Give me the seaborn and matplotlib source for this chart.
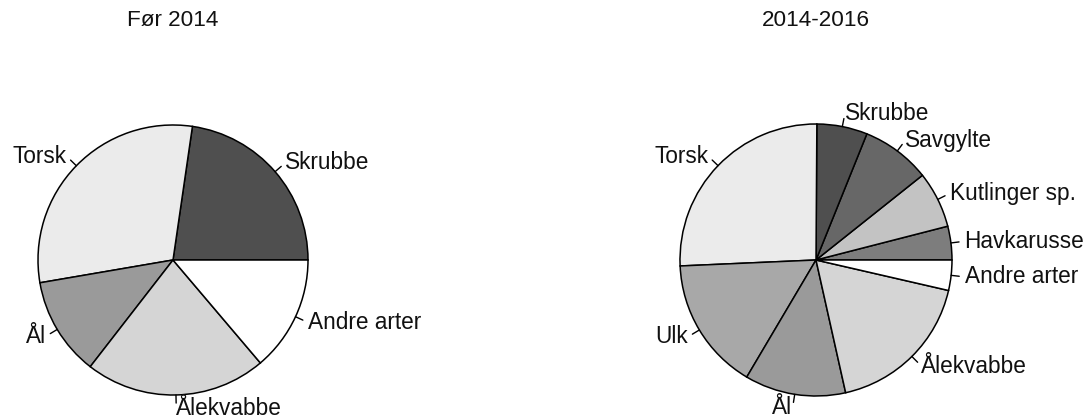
import numpy as np
import matplotlib
matplotlib.use("Agg")
import matplotlib.pyplot as plt
import seaborn as sns

# andeler (%) lest av figuren, i rekkefølge mot klokka fra kl. 3
labels_before = ["Skrubbe", "Torsk", "Ål", "Ålekvabbe", "Andre arter"]
values_before = [22.7, 30.0, 11.8, 21.7, 13.8]
colors_before = ["#4f4f4f", "#ebebeb", "#9a9a9a", "#d5d5d5", "#ffffff"]

labels_after = ["Havkarusse", "Kutlinger sp.", "Savgylte", "Skrubbe", "Torsk",
                "Ulk", "Ål", "Ålekvabbe", "Andre arter"]
values_after = [4.0, 6.7, 8.2, 6.0, 25.8, 15.8, 12.0, 17.9, 3.6]
colors_after = ["#7d7d7d", "#c3c3c3", "#676767", "#4f4f4f", "#ebebeb",
                "#a8a8a8", "#9a9a9a", "#d5d5d5", "#ffffff"]

titles = ["Før 2014", "2014-2016"]

sns.set_theme(style="white")
plt.rcParams['font.family'] = ['Liberation Sans', 'DejaVu Sans']

W, H = 1091, 420
fig = plt.figure(figsize=(W / 100, H / 100), dpi=100)


def draw_pie(cx, cy, r, labels, values, colors, title):
    ax = fig.add_axes([(cx - r) / W, (H - cy - r) / H, 2 * r / W, 2 * r / H])
    wedges, texts = ax.pie(values, labels=labels, colors=colors, startangle=0,
                           counterclock=True, labeldistance=1.1,
                           wedgeprops=dict(edgecolor="black", linewidth=1.1),
                           textprops=dict(fontsize=16.3, color="#111111"))
    # korte merkestreker ved kanten
    for w in wedges:
        a = np.deg2rad((w.theta1 + w.theta2) / 2)
        ax.plot([np.cos(a) * 1.0, np.cos(a) * 1.06], [np.sin(a) * 1.0, np.sin(a) * 1.06],
                color="black", lw=1, clip_on=False)
    ax.set_xlim(-1, 1)
    ax.set_ylim(-1, 1)
    ax.set_aspect("equal")
    ax.axis("off")
    fig.text(cx / W, 1 - 20 / H, title, ha="center", va="center",
             fontsize=16.2, color="#111111")


draw_pie(173, 260, 135, labels_before, values_before, colors_before, titles[0])
draw_pie(816, 260, 136, labels_after, values_after, colors_after, titles[1])

fig.savefig("out.png", dpi=100)
